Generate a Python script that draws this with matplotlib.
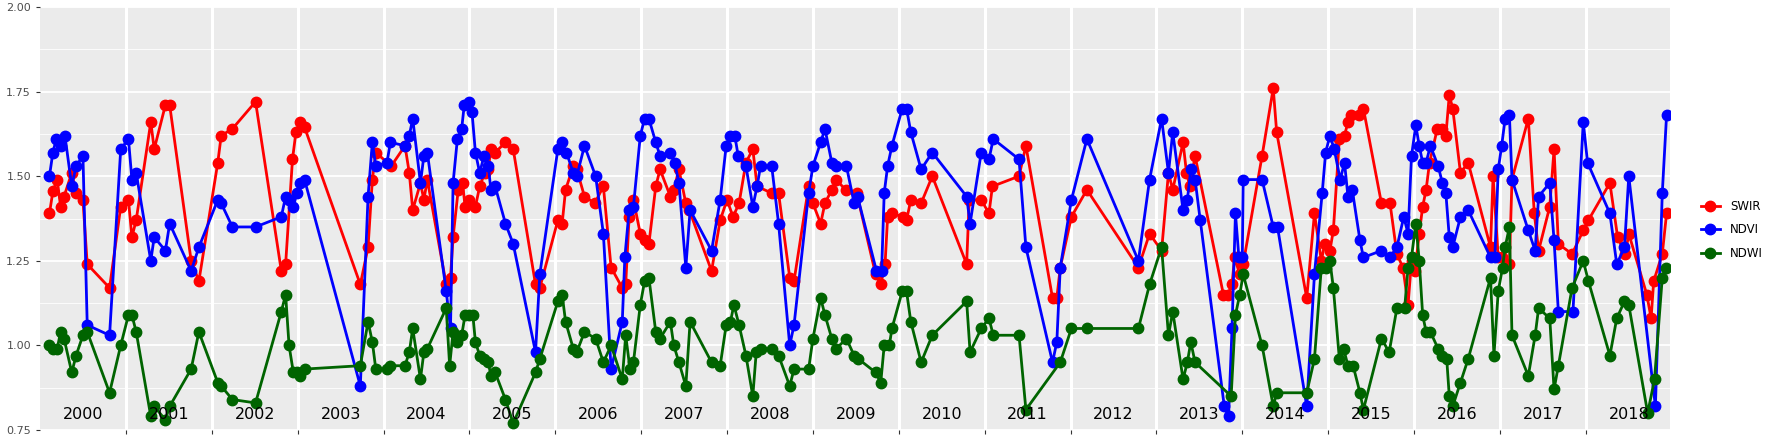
import matplotlib
matplotlib.use("Agg")
from matplotlib import pyplot as plt
from matplotlib.lines import Line2D

# decimal years (offset from 2000) and index values
swir_t = [0.11, 0.15, 0.20, 0.24, 0.28, 0.37, 0.42, 0.50, 0.55, 0.81, 0.94, 1.03, 1.07, 1.12, 1.29, 1.33, 1.46, 1.51,
          1.76, 1.85, 2.07, 2.11, 2.24, 2.51, 2.81, 2.86, 2.94, 2.98, 3.03, 3.08, 3.73, 3.82, 3.87, 3.91, 4.09, 4.25,
          4.30, 4.34, 4.43, 4.47, 4.51, 4.73, 4.78, 4.81, 4.87, 4.92, 4.95, 4.99, 5.07, 5.12, 5.18, 5.22, 5.25, 5.30,
          5.42, 5.51, 5.77, 5.82, 6.03, 6.08, 6.12, 6.21, 6.25, 6.34, 6.46, 6.56, 6.65, 6.78, 6.82, 6.86, 6.91, 6.99,
          7.04, 7.09, 7.17, 7.22, 7.34, 7.38, 7.44, 7.52, 7.56, 7.82, 7.92, 8.00, 8.07, 8.14, 8.22, 8.30, 8.35, 8.52,
          8.60, 8.73, 8.78, 8.95, 9.00, 9.09, 9.14, 9.22, 9.27, 9.38, 9.51, 9.73, 9.79, 9.84, 9.87, 9.92, 10.05, 10.09,
          10.14, 10.26, 10.39, 10.79, 10.82, 10.96, 11.05, 11.09, 11.40, 11.48, 11.79, 11.84, 11.88, 12.01, 12.19,
          12.79, 12.92, 13.06, 13.14, 13.19, 13.31, 13.35, 13.39, 13.45, 13.78, 13.83, 13.88, 13.91, 13.97, 14.01,
          14.23, 14.36, 14.40, 14.75, 14.84, 14.92, 14.96, 15.02, 15.06, 15.13, 15.19, 15.23, 15.27, 15.36, 15.41,
          15.62, 15.72, 15.80, 15.87, 15.93, 15.97, 16.01, 16.06, 16.10, 16.14, 16.18, 16.27, 16.32, 16.37, 16.41,
          16.45, 16.54, 16.63, 16.89, 16.92, 16.98, 17.02, 17.11, 17.14, 17.33, 17.40, 17.45, 17.58, 17.63, 17.68,
          17.84, 17.97, 18.03, 18.28, 18.37, 18.46, 18.50, 18.71, 18.76, 18.79, 18.89, 18.94]
swir_v = [1.39, 1.455, 1.49, 1.41, 1.44, 1.51, 1.45, 1.43, 1.24, 1.17, 1.41, 1.43, 1.32, 1.37, 1.66, 1.58, 1.71, 1.71,
          1.25, 1.19, 1.54, 1.62, 1.64, 1.72, 1.22, 1.24, 1.55, 1.63, 1.66, 1.645, 1.18, 1.29, 1.49, 1.57, 1.53, 1.59,
          1.51, 1.40, 1.48, 1.43, 1.49, 1.18, 1.20, 1.32, 1.46, 1.48, 1.41, 1.43, 1.41, 1.47, 1.51, 1.52, 1.58, 1.57,
          1.60, 1.58, 1.18, 1.17, 1.37, 1.36, 1.46, 1.53, 1.52, 1.44, 1.42, 1.47, 1.23, 1.17, 1.18, 1.38, 1.43, 1.33,
          1.31, 1.30, 1.47, 1.52, 1.44, 1.46, 1.52, 1.42, 1.40, 1.22, 1.37, 1.43, 1.38, 1.42, 1.54, 1.58, 1.47, 1.45,
          1.45, 1.20, 1.19, 1.47, 1.42, 1.36, 1.42, 1.46, 1.49, 1.46, 1.45, 1.21, 1.18, 1.24, 1.38, 1.39, 1.38, 1.37,
          1.43, 1.42, 1.50, 1.24, 1.43, 1.43, 1.39, 1.47, 1.50, 1.59, 1.14, 1.14, 1.23, 1.38, 1.46,
          1.23, 1.33, 1.28, 1.51, 1.46, 1.60, 1.51, 1.47, 1.56, 1.15, 1.15, 1.18, 1.26, 1.21, 1.24,
          1.56, 1.76, 1.63, 1.14, 1.39, 1.25, 1.30, 1.28, 1.34, 1.61, 1.62, 1.66, 1.68, 1.68, 1.70,
          1.42, 1.42, 1.27, 1.23, 1.12, 1.25, 1.22, 1.33, 1.41, 1.46, 1.54, 1.64, 1.64, 1.62, 1.74,
          1.70, 1.51, 1.54, 1.29, 1.50, 1.26, 1.26, 1.24, 1.49, 1.67, 1.39, 1.28, 1.41, 1.58, 1.30,
          1.27, 1.34, 1.37, 1.48, 1.32, 1.27, 1.33, 1.15, 1.08, 1.19, 1.27, 1.39]

ndvi_t = [0.11, 0.15, 0.19, 0.25, 0.29, 0.37, 0.42, 0.50, 0.55, 0.81, 0.94, 1.03, 1.07, 1.12, 1.29, 1.33, 1.46, 1.51,
          1.76, 1.85, 2.07, 2.11, 2.24, 2.51, 2.81, 2.86, 2.90, 2.95, 2.99, 3.03, 3.08, 3.73, 3.82, 3.87, 3.91, 4.04,
          4.08, 4.25, 4.30, 4.34, 4.43, 4.47, 4.51, 4.73, 4.78, 4.81, 4.86, 4.91, 4.94, 4.99, 5.03, 5.07, 5.12, 5.17,
          5.22, 5.25, 5.30, 5.42, 5.51, 5.77, 5.82, 6.03, 6.08, 6.13, 6.21, 6.25, 6.34, 6.47, 6.56, 6.65, 6.78, 6.81,
          6.86, 6.91, 6.99, 7.04, 7.09, 7.17, 7.22, 7.34, 7.39, 7.44, 7.52, 7.57, 7.82, 7.92, 7.99, 8.04, 8.09, 8.13,
          8.22, 8.30, 8.35, 8.39, 8.52, 8.60, 8.73, 8.78, 8.95, 9.00, 9.09, 9.14, 9.22, 9.27, 9.39, 9.48, 9.52, 9.74,
          9.80, 9.83, 9.87, 9.92, 10.04, 10.09, 10.14, 10.26, 10.39, 10.79, 10.83, 10.96, 11.05, 11.10, 11.40, 11.48,
          11.79, 11.84, 11.88, 12.01, 12.19, 12.79, 12.92, 13.06, 13.14, 13.19, 13.31, 13.36, 13.40, 13.45, 13.51,
          13.79, 13.84, 13.88, 13.92, 13.96, 14.00, 14.01, 14.23, 14.36, 14.41, 14.75, 14.84, 14.93, 14.97, 15.02,
          15.07, 15.14, 15.19, 15.23, 15.28, 15.37, 15.41, 15.62, 15.72, 15.80, 15.88, 15.93, 15.97, 16.02, 16.06,
          16.10, 16.14, 16.19, 16.28, 16.33, 16.37, 16.41, 16.45, 16.54, 16.63, 16.89, 16.94, 16.98, 17.02, 17.06,
          17.11, 17.14, 17.33, 17.41, 17.45, 17.58, 17.63, 17.68, 17.85, 17.97, 18.02, 18.28, 18.36, 18.45, 18.50,
          18.81, 18.89, 18.94]
ndvi_v = [1.50, 1.57, 1.61, 1.59, 1.62, 1.47, 1.53, 1.56, 1.06, 1.03, 1.58, 1.61, 1.49, 1.51, 1.25, 1.32, 1.28, 1.36,
          1.22, 1.29, 1.43, 1.42, 1.35, 1.35, 1.38, 1.44, 1.43, 1.41, 1.45, 1.48, 1.49, 0.88, 1.44, 1.60, 1.53, 1.54,
          1.60, 1.59, 1.62, 1.67, 1.48, 1.56, 1.57, 1.16, 1.05, 1.48, 1.61, 1.64, 1.71, 1.72, 1.69, 1.57, 1.51, 1.56,
          1.53, 1.46, 1.47, 1.36, 1.30, 0.98, 1.21, 1.58, 1.60, 1.57, 1.51, 1.50, 1.59, 1.50, 1.33, 0.93, 1.07, 1.26,
          1.40, 1.41, 1.62, 1.67, 1.67, 1.60, 1.56, 1.57, 1.54, 1.48, 1.23, 1.40, 1.28, 1.43, 1.59, 1.62, 1.62, 1.56,
          1.53, 1.41, 1.47, 1.53, 1.53, 1.36, 1.00, 1.06, 1.45, 1.53, 1.60, 1.64, 1.54, 1.53, 1.53, 1.42, 1.44, 1.22,
          1.22, 1.45, 1.53, 1.59, 1.70, 1.70, 1.63, 1.52, 1.57, 1.44, 1.36, 1.57, 1.55, 1.61, 1.55, 1.29,
          0.95, 1.01, 1.23, 1.43, 1.61, 1.25, 1.49, 1.67, 1.51, 1.63, 1.40, 1.43, 1.52, 1.49, 1.37,
          0.82, 0.79, 1.05, 1.39, 1.26, 1.26, 1.49, 1.49, 1.35, 1.35, 0.82, 1.21, 1.45, 1.57, 1.62,
          1.58, 1.49, 1.54, 1.44, 1.46, 1.31, 1.26, 1.28, 1.26, 1.29, 1.38, 1.33, 1.56, 1.65, 1.59,
          1.54, 1.54, 1.59, 1.53, 1.48, 1.45, 1.32, 1.29, 1.38, 1.40, 1.26, 1.26, 1.52, 1.59, 1.67,
          1.68, 1.49, 1.34, 1.28, 1.44, 1.48, 1.31, 1.10, 1.10, 1.66, 1.54, 1.39, 1.24, 1.29, 1.50,
          0.82, 1.45, 1.68]

ndwi_t = [0.11, 0.15, 0.20, 0.24, 0.28, 0.37, 0.42, 0.50, 0.55, 0.81, 0.94, 1.03, 1.07, 1.12, 1.29, 1.33, 1.46, 1.51,
          1.76, 1.85, 2.07, 2.11, 2.24, 2.51, 2.81, 2.86, 2.90, 2.95, 2.99, 3.03, 3.08, 3.73, 3.82, 3.87, 3.91, 4.04,
          4.08, 4.25, 4.30, 4.34, 4.43, 4.47, 4.51, 4.73, 4.77, 4.81, 4.86, 4.91, 4.95, 5.00, 5.04, 5.07, 5.12, 5.17,
          5.22, 5.25, 5.30, 5.42, 5.51, 5.77, 5.82, 6.03, 6.08, 6.12, 6.21, 6.25, 6.34, 6.47, 6.56, 6.65, 6.78, 6.82,
          6.87, 6.91, 6.99, 7.04, 7.09, 7.17, 7.22, 7.34, 7.38, 7.44, 7.52, 7.57, 7.82, 7.92, 7.99, 8.04, 8.08, 8.14,
          8.22, 8.30, 8.34, 8.39, 8.52, 8.60, 8.73, 8.78, 8.95, 9.00, 9.09, 9.14, 9.22, 9.27, 9.39, 9.48, 9.53, 9.73,
          9.79, 9.83, 9.89, 9.92, 10.04, 10.09, 10.14, 10.26, 10.39, 10.79, 10.83, 10.96, 11.05, 11.10, 11.40, 11.48,
          11.88, 12.01, 12.19, 12.79, 12.92, 13.06, 13.14, 13.19, 13.31, 13.36, 13.40, 13.45, 13.87, 13.92, 13.97,
          14.01, 14.23, 14.36, 14.40, 14.75, 14.84, 14.92, 14.98, 15.02, 15.06, 15.13, 15.18, 15.23, 15.29, 15.37,
          15.41, 15.62, 15.71, 15.80, 15.89, 15.93, 15.97, 16.02, 16.06, 16.10, 16.14, 16.19, 16.28, 16.33, 16.38,
          16.41, 16.45, 16.54, 16.63, 16.89, 16.93, 16.98, 17.03, 17.06, 17.11, 17.14, 17.33, 17.41, 17.45, 17.58,
          17.63, 17.68, 17.84, 17.97, 18.03, 18.28, 18.36, 18.45, 18.50, 18.72, 18.80, 18.89, 18.93]
ndwi_v = [1.00, 0.99, 0.99, 1.04, 1.02, 0.92, 0.97, 1.03, 1.04, 0.86, 1.00, 1.09, 1.09, 1.04, 0.79, 0.82, 0.78, 0.82,
          0.93, 1.04, 0.89, 0.88, 0.84, 0.83, 1.10, 1.15, 1.00, 0.92, 0.92, 0.91, 0.93, 0.94, 1.07, 1.01, 0.93, 0.93,
          0.94, 0.94, 0.98, 1.05, 0.90, 0.98, 0.99, 1.11, 0.94, 1.04, 1.01, 1.03, 1.09, 1.09, 1.09, 1.01, 0.97, 0.96,
          0.95, 0.91, 0.92, 0.84, 0.77, 0.92, 0.96, 1.13, 1.15, 1.07, 0.99, 0.98, 1.04, 1.02, 0.95, 1.00, 0.90, 1.03,
          0.93, 0.95, 1.12, 1.19, 1.20, 1.04, 1.02, 1.07, 1.00, 0.95, 0.88, 1.07, 0.95, 0.94, 1.06, 1.07, 1.12, 1.06,
          0.97, 0.85, 0.98, 0.99, 0.99, 0.97, 0.88, 0.93, 0.93, 1.02, 1.14, 1.09, 1.02, 0.99, 1.02, 0.97, 0.96, 0.92,
          0.89, 1.00, 1.00, 1.05, 1.16, 1.16, 1.07, 0.95, 1.03, 1.13, 0.98, 1.05, 1.08, 1.03, 1.03, 0.81,
          0.95, 1.05, 1.05, 1.05, 1.18, 1.29, 1.03, 1.10, 0.90, 0.95, 1.01, 0.95, 0.85, 1.09, 1.15,
          1.21, 1.00, 0.82, 0.86, 0.86, 0.96, 1.23, 1.23, 1.25, 1.17, 0.96, 0.99, 0.94, 0.94, 0.86,
          0.81, 1.02, 0.98, 1.11, 1.11, 1.23, 1.26, 1.36, 1.25, 1.09, 1.04, 1.04, 0.99, 0.97, 0.96,
          0.85, 0.82, 0.89, 0.96, 1.20, 0.97, 1.16, 1.23, 1.29, 1.35, 1.03, 0.91, 1.03, 1.11, 1.08,
          0.87, 0.94, 1.17, 1.25, 1.19, 0.97, 1.08, 1.13, 1.12, 0.80, 0.90, 1.20, 1.23]

series = [("SWIR", swir_t, swir_v, "#FF0000"),
          ("NDVI", ndvi_t, ndvi_v, "#0000FF"),
          ("NDWI", ndwi_t, ndwi_v, "#006400")]
years = list(range(2000, 2019))

fig = plt.figure(figsize=(17.73, 4.42), dpi=100)
ax = fig.add_axes([40 / 1773, 12 / 442, 1630 / 1773, 423 / 442])
ax.set_facecolor("#EBEBEB")

for name, t, v, col in series:
    ax.plot([2000 + x for x in t], v, color=col, lw=2.0, marker="o", ms=7.5, label=name, zorder=3)

ax.set_xlim(2000.0, 2018.98)
ax.set_ylim(0.75, 2.0)
ax.set_yticks([0.75, 1.0, 1.25, 1.5, 1.75, 2.0])
ax.set_yticklabels(["0.75", "1.00", "1.25", "1.50", "1.75", "2.00"])
ax.set_yticks([0.875, 1.125, 1.375, 1.625, 1.875], minor=True)
ax.set_xticks(years[1:])
ax.set_xticklabels([])
ax.grid(axis="y", which="major", color="white", lw=1.3, zorder=0)
ax.grid(axis="y", which="minor", color="white", lw=0.6, zorder=0)
ax.grid(axis="x", which="major", color="white", lw=2.2, zorder=0)
ax.set_axisbelow(True)
ax.tick_params(axis="y", which="minor", length=0)
ax.tick_params(axis="both", which="major", length=3, color="#333333", labelcolor="#4D4D4D", labelsize=8)
for s in ax.spines.values():
    s.set_visible(False)

for y in years:
    ax.text(y + 0.5, 0.797, str(y), ha="center", va="center", fontsize=11.5, color="black", zorder=4)

handles = [Line2D([], [], color=c, lw=2.0, marker="o", ms=7.5) for _, _, _, c in series]
leg = fig.legend(handles, [s[0] for s in series], loc="center left", bbox_to_anchor=(1690 / 1773, 0.48),
                 frameon=False, fontsize=8.5, handlelength=1.6, labelspacing=0.9, handletextpad=0.9)
for h in leg.legend_handles:
    h.set_path_effects([])

fig.savefig("out.png", dpi=100)
